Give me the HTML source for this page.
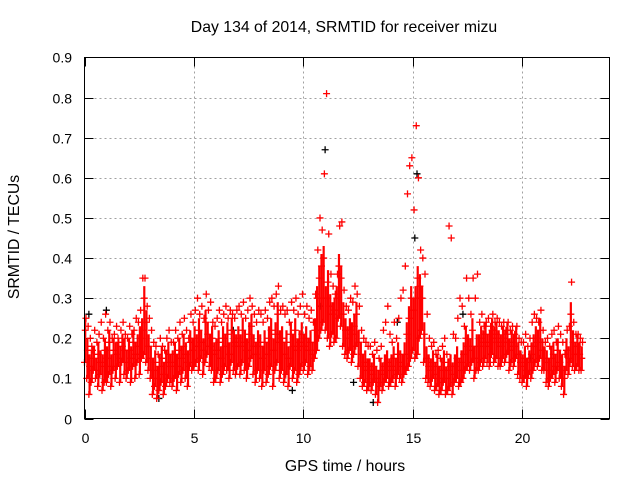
<!DOCTYPE html>
<html><head><meta charset="utf-8"><style>
body{margin:0;background:#fff;}
svg text{font-family:"Liberation Sans",sans-serif;font-size:14px;fill:#000;}
svg text.big{font-size:15.8px;}
</style></head><body>
<svg id="chart" width="640" height="480" xmlns="http://www.w3.org/2000/svg">
<rect width="640" height="480" fill="#fff"/>
<text class="big" x="344" y="32" text-anchor="middle">Day 134 of 2014, SRMTID for receiver mizu</text>
<text class="big" transform="translate(19,237) rotate(-90)" text-anchor="middle">SRMTID / TECUs</text>
<text class="big" x="345" y="471" text-anchor="middle">GPS time / hours</text>
<g id="grid"></g>
<g id="ticks"></g>
<g id="black"></g>
<g id="red"></g>
<rect x="84.5" y="57.5" width="525" height="361" fill="none" stroke="#000"/>
</svg>
<script>
const xTicks=[0,5,10,15,20];
const yTicks=[0,0.1,0.2,0.3,0.4,0.5,0.6,0.7,0.8,0.9];
const yTickLabels=["0","0.1","0.2","0.3","0.4","0.5","0.6","0.7","0.8","0.9"];
const tStart=0, tStep=0.1;
const lo=[.14,.10,.06,.09,.12,.10,.08,.11,.07,.09,
.09,.11,.08,.12,.10,.13,.09,.14,.11,.10,
.12,.09,.13,.10,.14,.11,.15,.16,.14,.12,
.10,.06,.08,.05,.07,.09,.06,.08,.10,.09,
.08,.10,.07,.11,.09,.12,.10,.08,.13,.12,
.13,.14,.12,.15,.11,.14,.16,.13,.12,.09,
.10,.12,.09,.11,.13,.12,.10,.14,.12,.11,
.13,.11,.14,.12,.10,.13,.15,.11,.09,.12,
.10,.08,.12,.09,.11,.13,.08,.12,.14,.10,
.12,.09,.11,.08,.13,.10,.12,.09,.11,.13,
.12,.14,.11,.13,.12,.15,.17,.20,.22,.24,
.22,.20,.18,.21,.19,.20,.25,.23,.18,.16,
.15,.17,.14,.16,.18,.13,.10,.08,.09,.07,
.08,.07,.09,.06,.04,.08,.07,.09,.10,.08,
.09,.10,.08,.11,.10,.09,.11,.12,.13,.15,
.17,.15,.16,.20,.22,.14,.10,.09,.08,.10,
.07,.08,.06,.07,.09,.06,.07,.08,.06,.09,
.10,.08,.09,.10,.12,.13,.12,.14,.10,.12,
.12,.14,.13,.15,.14,.13,.16,.14,.15,.13,
.13,.15,.14,.16,.12,.14,.13,.15,.11,.10,
.09,.10,.08,.11,.10,.12,.14,.13,.15,.12,
.12,.09,.08,.10,.11,.09,.12,.10,.08,.06,
.12,.11,.14,.13,.12,.13,.12,.12];
const mid=[.22,.17,.13,.18,.15,.12,.16,.14,.13,.17,
.15,.19,.13,.17,.16,.20,.15,.18,.17,.14,
.17,.15,.19,.16,.18,.20,.22,.30,.24,.18,
.15,.12,.14,.10,.13,.15,.11,.14,.16,.13,
.14,.16,.13,.17,.15,.18,.16,.14,.19,.17,
.20,.18,.22,.19,.17,.24,.21,.18,.20,.16,
.17,.19,.15,.20,.18,.21,.16,.22,.19,.18,
.20,.18,.22,.19,.17,.21,.23,.18,.16,.19,
.18,.15,.19,.16,.20,.22,.17,.21,.26,.19,
.20,.16,.19,.15,.21,.18,.22,.17,.19,.21,
.18,.20,.17,.19,.16,.22,.30,.35,.38,.40,
.30,.34,.28,.26,.27,.30,.38,.35,.26,.22,
.20,.22,.21,.23,.26,.19,.16,.13,.14,.12,
.12,.11,.13,.10,.09,.12,.11,.13,.14,.12,
.13,.15,.12,.16,.14,.13,.16,.21,.25,.30,
.27,.30,.35,.33,.30,.21,.15,.13,.12,.14,
.11,.13,.10,.12,.14,.10,.12,.13,.11,.13,
.15,.12,.14,.16,.20,.18,.17,.22,.15,.18,
.18,.20,.19,.21,.18,.19,.22,.20,.21,.19,
.18,.20,.19,.21,.17,.19,.18,.20,.16,.14,
.13,.15,.12,.14,.16,.18,.20,.19,.22,.17,
.15,.14,.12,.15,.16,.13,.17,.14,.13,.10,
.17,.15,.26,.19,.16,.18,.16,.15];
const hi=[.25,.23,.20,.17,.22,.19,.21,.24,.20,.26,
.22,.24,.20,.21,.23,.19,.22,.24,.21,.20,
.23,.21,.22,.25,.24,.27,.35,.35,.28,.25,
.22,.19,.18,.16,.20,.18,.17,.20,.22,.19,
.19,.22,.20,.24,.21,.25,.22,.20,.26,.24,
.27,.30,.26,.28,.25,.31,.27,.29,.24,.23,
.25,.27,.24,.26,.28,.25,.27,.26,.25,.27,
.28,.26,.29,.25,.27,.30,.28,.26,.24,.27,
.26,.24,.27,.25,.29,.30,.28,.31,.33,.27,
.28,.26,.27,.24,.29,.27,.30,.26,.28,.31,
.26,.28,.25,.27,.24,.31,.42,.50,.47,.61,
.81,.46,.36,.33,.31,.36,.48,.49,.32,.28,
.27,.30,.29,.33,.31,.28,.22,.20,.19,.18,
.18,.16,.19,.17,.15,.18,.22,.24,.28,.21,
.19,.24,.20,.25,.30,.32,.38,.56,.63,.65,
.52,.73,.60,.42,.40,.36,.26,.20,.18,.19,
.16,.17,.15,.18,.20,.16,.48,.45,.21,.20,
.25,.30,.28,.23,.35,.30,.26,.35,.30,.36,
.24,.26,.23,.24,.25,.23,.26,.24,.25,.24,
.23,.24,.22,.24,.22,.23,.21,.23,.20,.19,
.19,.21,.18,.20,.24,.26,.25,.24,.27,.22,
.19,.20,.18,.21,.22,.19,.23,.21,.19,.16,
.22,.23,.34,.24,.21,.21,.20,.19];
const blackT=[0.2,1.0,9.5,10.8,11.0,13.2,14.3,15.1,15.2,17.3,20.4,3.4,6.8,12.3,18.6];
const blackV=[0.26,0.27,0.07,0.28,0.67,0.04,0.24,0.45,0.61,0.26,0.15,0.05,0.22,0.09,0.16];

const X0=84.5,X1=609.5,Y0=418.5,Y1=57.5,XMAX=24,YMAX=0.9;
const sx=t=>X0+(X1-X0)*t/XMAX;
const sy=v=>Y0-(Y0-Y1)*v/YMAX;
const NS="http://www.w3.org/2000/svg";
function mk(tag,attrs,parent){const e=document.createElementNS(NS,tag);for(const k in attrs)e.setAttribute(k,attrs[k]);parent.appendChild(e);return e;}
const grid=document.getElementById('grid'),ticks=document.getElementById('ticks');
yTicks.forEach((v,i)=>{
  const y=Math.round(sy(v))+0.5;
  if(i>0&&i<yTicks.length-1){const g=mk('line',{x1:X0,x2:X1,y1:y,y2:y,stroke:'#a0a0a0','stroke-dasharray':'2,3'},grid);
  
  }
  mk('path',{d:`M${X0} ${y}h9M${X1} ${y}h-9`,stroke:'#000'},ticks);
  const t=mk('text',{x:72,y:y+5,'text-anchor':'end'},ticks);t.textContent=yTickLabels[i];
  
  
});
xTicks.forEach(v=>{
  const x=Math.round(sx(v))+0.5;
  if(v>0){const g=mk('line',{x1:x,x2:x,y1:Y0,y2:Y1,stroke:'#a0a0a0','stroke-dasharray':'2,3'},grid);
  
  }
  mk('path',{d:`M${x} ${Y0}v-9M${x} ${Y1}v9`,stroke:'#000'},ticks);
  const t=mk('text',{x:x,y:443,'text-anchor':'middle'},ticks);t.textContent=String(v);
  
  
});
function plus(g,t,v,col,name){
  const x=sx(t),y=sy(v);
  const p=mk('path',{d:`M${x-3.5} ${y}h7M${x} ${y-3.5}v7`,stroke:col,'stroke-width':1.3},g);
  
  
}
const bg=document.getElementById('black'),rg=document.getElementById('red');
blackT.forEach((t,i)=>plus(bg,t,blackV[i],'#000','black-point'));
// dense sample band between lo and mid for each step
lo.forEach((v,i)=>{
  const x=sx(tStart+i*tStep+0.033);
  const top=Math.min(mid[i]+0.03,hi[i]);
  const r=mk('line',{x1:x,x2:x,y1:sy(v),y2:sy(top),stroke:'#ff0000','stroke-width':2.2},rg);
  
  
});
[lo,mid,hi].forEach((arr,k)=>arr.forEach((v,i)=>plus(rg,tStart+i*tStep+k*0.033,v,'#ff0000','red-point')));
</script>
</body></html>
